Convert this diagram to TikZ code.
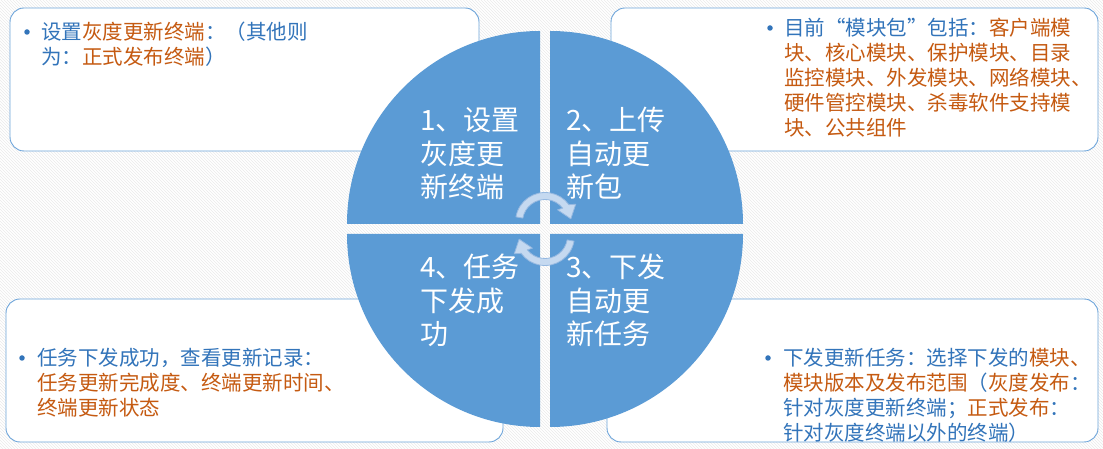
\documentclass[tikz,border=0pt]{standalone}
\usepackage{fontspec}
\setmainfont{Noto Sans CJK SC}
\usetikzlibrary{patterns,calc}
\definecolor{qblue}{RGB}{91,155,213}
\definecolor{tblue}{RGB}{50,116,186}
\definecolor{torange}{RGB}{197,90,17}
\definecolor{afill}{RGB}{197,217,240}
\definecolor{aline}{RGB}{150,185,225}
\definecolor{bline}{RGB}{110,165,218}
\newcommand\blu[1]{\textcolor{tblue}{#1}}
\newcommand\org[1]{\textcolor{torange}{#1}}
\tikzset{
  infobox/.style={draw=bline, line width=0.9pt, fill=white, rounded corners=14pt, minimum height=143pt, inner sep=0pt},
  quad/.style={fill=qblue},
  bul/.style={circle, fill=tblue, inner sep=0pt, minimum size=5.5pt},
  boxtext/.style={anchor=base west, align=left, inner sep=0pt, font=\fontsize{20.5pt}{25pt}\selectfont},
  quadtext/.style={anchor=base west, align=left, inner sep=0pt, text=white, font=\fontsize{28pt}{33.5pt}\selectfont},
  cyc/.style={fill=afill, draw=aline, line width=0.8pt, line join=round}
}
\begin{document}
\begin{tikzpicture}[x=1pt,y=1pt]
\useasboundingbox (0,0) rectangle (1103,449);
\fill[white] (0,0) rectangle (1103,449);
\fill[pattern=north west lines, pattern color=black!8] (0,0) rectangle (1103,449);

% boxes
\node[infobox, minimum width=469pt] (box1) at (244.5,369.5) {};
\node[infobox, minimum width=487pt] (box2) at (854.5,369.5) {};
\node[infobox, minimum width=497pt] (box3) at (254.5,78.5) {};
\node[infobox, minimum width=491pt] (box4) at (852.5,78.5) {};

% box texts (base anchor = baseline of the last line)
\node[bul] (d1) at (27,417) {};
\node[boxtext] (t1) at (41,384.2) {\blu{设置}\org{灰度更新终端}\blu{：（其他则}\\\blu{为：}\org{正式发布终端}\blu{）}};
\node[bul] (d2) at (770,421) {};
\node[boxtext] (t2) at (784,313.2) {\blu{目前“模块包”包括：}\org{客户端模}\\\org{块、核心模块、保护模块、目录}\\\org{监控模块、外发模块、网络模块、}\\\org{硬件管控模块、杀毒软件支持模}\\\org{块、公共组件}};
\node[bul] (d3) at (22,91) {};
\node[boxtext] (t3) at (37,33.2) {\blu{任务下发成功，查看更新记录：}\\\org{任务更新完成度、终端更新时间、}\\\org{终端更新状态}};
\node[bul] (d4) at (768,91) {};
\node[boxtext] (t4) at (783,8.2) {\blu{下发更新任务：选择下发的}\org{模块、}\\\org{模块版本及发布范围}\blu{（}\org{灰度发布}\blu{：}\\\blu{针对灰度更新终端；}\org{正式发布}\blu{：}\\\blu{针对灰度终端以外的终端）}};

% quadrants
\fill[quad] (540,225) -- (347,225) arc[start angle=180,end angle=90,radius=193pt] -- cycle;
\fill[quad] (550,225) -- (550,418) arc[start angle=90,end angle=0,radius=193pt] -- cycle;
\fill[quad] (550,215) -- (743,215) arc[start angle=0,end angle=-90,radius=193pt] -- cycle;
\fill[quad] (540,215) -- (540,22) arc[start angle=-90,end angle=-180,radius=193pt] -- cycle;

% quadrant texts
\node[quadtext] (q1) at (420,251.4) {1、设置\\灰度更\\新终端};
\node[quadtext] (q2) at (566,251.4) {2、上传\\自动更\\新包};
\node[quadtext] (q3) at (566,104.4) {3、下发\\自动更\\新任务};
\node[quadtext] (q4) at (420,104.4) {4、任务\\下发成\\功};

% cycle arrows
\coordinate (ca) at (545,227);
\coordinate (cb) at (545,213);
\draw[cyc] ($(ca)+(170:29.5pt)$) arc[start angle=170,end angle=36,radius=29.5pt]
  -- ($(ca)+(30:35.5pt)$) -- ($(ca)+(7:26pt)$) -- ($(ca)+(44:17.5pt)$)
  -- ($(ca)+(38:22.5pt)$) arc[start angle=38,end angle=170,radius=22.5pt] -- cycle;
\draw[cyc] ($(cb)+(350:29.5pt)$) arc[start angle=350,end angle=216,radius=29.5pt]
  -- ($(cb)+(210:35.5pt)$) -- ($(cb)+(187:26pt)$) -- ($(cb)+(224:17.5pt)$)
  -- ($(cb)+(218:22.5pt)$) arc[start angle=218,end angle=350,radius=22.5pt] -- cycle;
\end{tikzpicture}
\end{document}
